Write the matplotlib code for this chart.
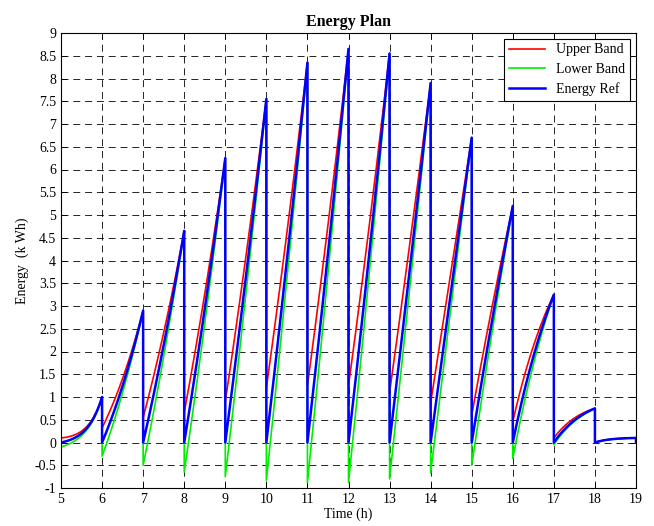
import numpy as np
import matplotlib
matplotlib.use("Agg")
import matplotlib.pyplot as plt

plt.rcParams['font.family'] = ['Liberation Serif', 'DejaVu Serif']
plt.rcParams['lines.scale_dashes'] = False

# hour starts
hours = [5, 6, 7, 8, 9, 10, 11, 12, 13, 14, 15, 16, 17, 18]
# energy reference at end of each hour (kWh)
ref_end = [1.0, 2.9, 4.65, 6.25, 7.55, 8.35, 8.65, 8.55, 7.9, 6.7, 5.2, 3.25, 0.75, 0.1]
# ratio of mid-hour value to end value (shape of each ramp)
mid_ratio = [0.2, 0.43, 0.46, 0.47, 0.48, 0.48, 0.48, 0.48, 0.49, 0.5, 0.52, 0.58, 0.65, 0.8]
# band offsets at start of each hour
upper_off = [0.1, 0.32, 0.55, 0.66, 0.9, 1.2, 1.25, 1.25, 1.1, 0.87, 0.6, 0.46, 0.1, 0.0]
lower_off = [-0.1, -0.3, -0.5, -0.65, -0.75, -0.83, -0.88, -0.88, -0.8, -0.67, -0.5, -0.35, -0.05, 0.0]
ref_start = [0.0] * len(hours)

xs, ref, up, lo = [], [], [], []
t = np.linspace(0, 1, 60)
for h, e0, e1, r, uo, lw_ in zip(hours, ref_start, ref_end, mid_ratio, upper_off, lower_off):
    if abs(r - 0.5) < 1e-6:
        shape = t
    else:
        k = -2 * np.log(1 / r - 1)
        shape = (1 - np.exp(-k * t)) / (1 - np.exp(-k))
    e = e0 + (e1 - e0) * shape
    xs.append(h + t)
    ref.append(e)
    up.append(e + uo * (1 - t))
    lo.append(e + lw_ * (1 - t))
xs.append([19.0]); ref.append([0.0]); up.append([0.0]); lo.append([0.0])
xs = np.concatenate(xs); ref = np.concatenate(ref)
up = np.concatenate(up); lo = np.concatenate(lo)

fig = plt.figure(figsize=(6.54, 5.26), dpi=100)
ax = fig.add_axes([61/654, 38/526, 575/654, 455/526])
ax.plot(xs, up, color='#ff0000', lw=1.2, label='Upper Band')
ax.plot(xs, lo, color='#00ee00', lw=1.2, label='Lower Band')
ax.plot(xs, ref, color='#0000ff', lw=1.8, label='Energy Ref')

ax.set_xlim(5, 19)
ax.set_ylim(-1, 9)
ax.set_xticks(np.arange(5, 20, 1))
ax.set_yticks(np.arange(-1, 9.01, 0.5))
ax.set_yticklabels([('%g' % v) for v in np.arange(-1, 9.01, 0.5)])
ax.tick_params(direction='in', top=True, right=True, labelsize=10, length=4, width=0.6)
ax.grid(True, color='black', linestyle=(0, (5, 3.5)), linewidth=0.6)
for s in ax.spines.values():
    s.set_linewidth(0.8)
ax.set_title('Energy Plan', fontsize=11.5, fontweight='bold', pad=5)
ax.set_xlabel('Time (h)', fontsize=10, labelpad=1)
ax.set_ylabel('Energy  (k Wh)', fontsize=10, labelpad=4)
leg = ax.legend(loc='upper right', fontsize=10, frameon=True, fancybox=False,
                edgecolor='black', framealpha=1, borderaxespad=0.4,
                handlelength=2.6, labelspacing=0.45, borderpad=0.35)
leg.get_frame().set_linewidth(0.8)
fig.savefig('out.png', dpi=100)
